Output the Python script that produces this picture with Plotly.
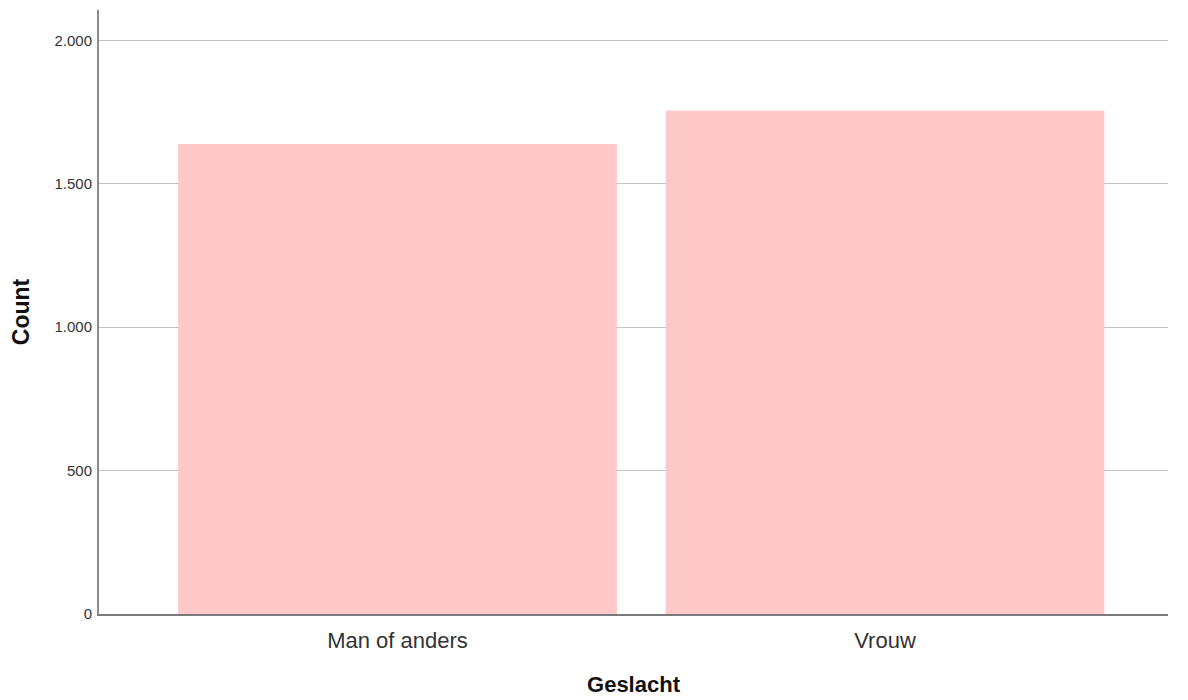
import plotly.graph_objects as go

categories = ["Man of anders", "Vrouw"]
counts = [1639, 1755]
y_ticks = [0, 500, 1000, 1500, 2000]
y_tick_labels = ["0", "500", "1.000", "1.500", "2.000"]

fig = go.Figure()
fig.add_trace(go.Bar(
    x=list(range(len(categories))),
    y=counts,
    width=0.9,
    marker=dict(color="#ffc9c9", line=dict(width=0)),
    hoverinfo="skip",
))

fig.update_layout(
    width=1180, height=692,
    margin=dict(l=91, r=20, t=2, b=86),
    plot_bgcolor="white", paper_bgcolor="white",
    font=dict(family="Liberation Sans, Arial, sans-serif", color="#222222"),
    showlegend=False,
    xaxis=dict(
        range=[-0.6123, 1.5805],
        tickvals=list(range(len(categories))),
        ticktext=categories,
        tickfont=dict(size=22, color="#333333"),
        showgrid=False, zeroline=False,
        showline=True, linecolor="#7a7a7a", linewidth=1.5,
        ticks="outside", ticklen=6, tickcolor="rgba(0,0,0,0)",
        title=dict(text="<b>Geslacht</b>", font=dict(size=22, color="#111111"), standoff=24),
    ),
    yaxis=dict(
        range=[0, 2106],
        tickvals=y_ticks,
        ticktext=y_tick_labels,
        tickfont=dict(size=15, color="#333333"),
        showgrid=True, gridcolor="#c4c4c4", gridwidth=1,
        zeroline=False,
        showline=True, linecolor="#8a8a8a", linewidth=2,
        ticks="outside", ticklen=2, tickcolor="rgba(0,0,0,0)",
        title=dict(text="<b>Count</b>", font=dict(size=23, color="#111111"), standoff=22),
    ),
)

fig.write_html("out.html")
